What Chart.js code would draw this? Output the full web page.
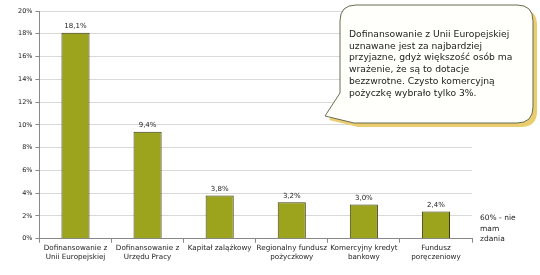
<!DOCTYPE html>
<html>
<head>
<meta charset="utf-8">
<script src="https://cdn.jsdelivr.net/npm/chart.js@4"></script>
<style>
  html, body { margin: 0; padding: 0; background: #fff; }
  #wrap { width: 540px; height: 275px; position: relative; }
</style>
</head>
<body>
<div id="wrap"><canvas id="c" width="540" height="275"></canvas></div>
<script>
// dane
const kategorie = [
  ["Dofinansowanie z", "Unii Europejskiej"],
  ["Dofinansowanie z", "Urzędu Pracy"],
  "Kapitał zalążkowy",
  ["Regionalny fundusz", "pożyczkowy"],
  ["Komercyjny kredyt", "bankowy"],
  ["Fundusz", "poręczeniowy"]
];
const wartosci = [18.1, 9.4, 3.8, 3.2, 3.0, 2.4];
const osY = [0, 2, 4, 6, 8, 10, 12, 14, 16, 18, 20];
const dymek = [
  "Dofinansowanie z Unii Europejskiej",
  "uznawane jest za najbardziej",
  "przyjazne, gdyż większość osób ma",
  "wrażenie, że są to dotacje",
  "bezzwrotne. Czysto komercyjną",
  "pożyczkę wybrało tylko 3%."
];
const brakZdania = ["60% - nie", "mam", "zdania"];

const fmtPct = (v) => v.toFixed(1).replace(".", ",") + "%";
const FONT = "'DejaVu Sans', sans-serif";

const etykiety = {
  id: "etykiety",
  afterDatasetsDraw(chart) {
    const ctx = chart.ctx;
    const meta = chart.getDatasetMeta(0);
    ctx.save();
    ctx.font = "7px " + FONT;
    ctx.fillStyle = "#222";
    ctx.textAlign = "center";
    ctx.textBaseline = "bottom";
    meta.data.forEach((bar, i) => {
      ctx.fillText(fmtPct(wartosci[i]), bar.x, bar.y - 3);
    });
    ctx.restore();
  }
};

const objasnienia = {
  id: "objasnienia",
  afterDraw(chart) {
    const ctx = chart.ctx;
    ctx.save();
    // dymek
    const x = 340, y = 5, w = 193, h = 118, r = 16;
    const ksztalt = (dx, dy) => {
      ctx.beginPath();
      ctx.moveTo(x + r + dx, y + dy);
      ctx.lineTo(x + w - r + dx, y + dy);
      ctx.quadraticCurveTo(x + w + dx, y + dy, x + w + dx, y + r + dy);
      ctx.lineTo(x + w + dx, y + h - r + dy);
      ctx.quadraticCurveTo(x + w + dx, y + h + dy, x + w - r + dx, y + h + dy);
      ctx.lineTo(x + 14 + dx, y + h + dy);
      ctx.lineTo(325 + dx, 116 + dy);
      ctx.lineTo(x + dx, y + h - 30 + dy);
      ctx.lineTo(x + dx, y + r + dy);
      ctx.quadraticCurveTo(x + dx, y + dy, x + r + dx, y + dy);
      ctx.closePath();
    };
    ksztalt(4, 4);
    ctx.fillStyle = "#e9cd6e";
    ctx.fill();
    ksztalt(0, 0);
    ctx.fillStyle = "#fffffb";
    ctx.fill();
    ctx.strokeStyle = "#6b6b50";
    ctx.lineWidth = 1;
    ctx.stroke();

    ctx.fillStyle = "#222";
    ctx.font = "9.2px " + FONT;
    ctx.textAlign = "left";
    ctx.textBaseline = "alphabetic";
    dymek.forEach((t, i) => ctx.fillText(t, 349, 37 + i * 11.7));

    ctx.font = "7.5px " + FONT;
    brakZdania.forEach((t, i) => ctx.fillText(t, 480, 220 + i * 10.5));
    ctx.restore();
  }
};

new Chart(document.getElementById("c"), {
  type: "bar",
  data: {
    labels: kategorie,
    datasets: [{
      data: wartosci,
      backgroundColor: "#9ca31c",
      borderColor: "#3b3b16",
      borderWidth: 1,
      barPercentage: 0.78,
      categoryPercentage: 0.5
    }]
  },
  options: {
    responsive: false,
    animation: false,
    layout: { padding: { top: 11, right: 68, left: 15, bottom: 13 } },
    plugins: { legend: { display: false }, tooltip: { enabled: false } },
    scales: {
      x: {
        grid: { drawOnChartArea: false, drawTicks: true, tickLength: 4, offset: true, color: "#888" },
        border: { color: "#888" },
        ticks: { color: "#222", font: { family: FONT, size: 7.2 }, maxRotation: 0, autoSkip: false, padding: 1 }
      },
      y: {
        min: 0, max: 20,
        afterBuildTicks: (s) => { s.ticks = osY.map((v) => ({ value: v })); },
        grid: { color: "#d9d9d9", tickColor: "#888", tickLength: 4 },
        border: { color: "#888" },
        ticks: { color: "#222", font: { family: FONT, size: 6.5 }, padding: 3, callback: (v) => v + "%" }
      }
    }
  },
  plugins: [etykiety, objasnienia]
});
</script>
</body>
</html>
